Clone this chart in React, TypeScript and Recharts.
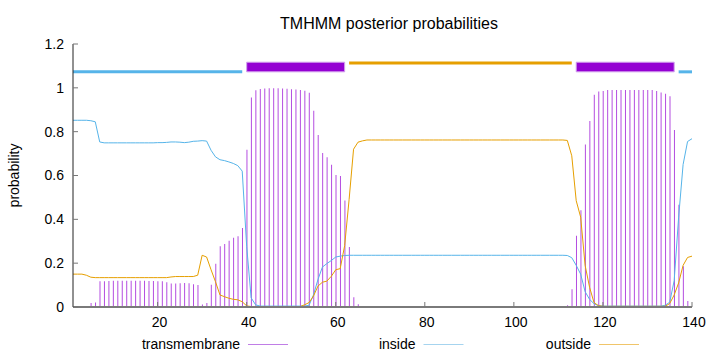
import React from "react";
import {
  ComposedChart,
  Bar,
  Line,
  XAxis,
  YAxis,
  ReferenceLine,
  ReferenceArea,
} from "recharts";

// posterior probability per residue (1..140)
const transmembrane = [
  0, 0, 0, 0.005, 0.018, 0.02, 0.117, 0.118, 0.119, 0.12,
  0.12, 0.12, 0.12, 0.12, 0.12, 0.12, 0.12, 0.119, 0.119, 0.118,
  0.117, 0.113, 0.107, 0.107, 0.108, 0.11, 0.108, 0.104, 0.1, 0.011,
  0.018, 0.102, 0.197, 0.277, 0.287, 0.302, 0.316, 0.323, 0.361, 0.718,
  0.956, 0.989, 0.995, 0.997, 0.998, 0.998, 0.998, 0.997, 0.996, 0.994,
  0.992, 0.99, 0.987, 0.977, 0.896, 0.785, 0.703, 0.683, 0.649, 0.602,
  0.598, 0.486, 0.274, 0.044, 0.012, 0.005, 0.003, 0.003, 0.003, 0.003,
  0.003, 0.003, 0.003, 0.003, 0.003, 0.003, 0.003, 0.003, 0.003, 0.003,
  0.003, 0.003, 0.003, 0.003, 0.003, 0.003, 0.003, 0.003, 0.003, 0.003,
  0.003, 0.003, 0.003, 0.003, 0.003, 0.003, 0.003, 0.003, 0.003, 0.003,
  0.004, 0.004, 0.004, 0.004, 0.004, 0.004, 0.004, 0.004, 0.004, 0.004,
  0.005, 0.008, 0.081, 0.325, 0.442, 0.742, 0.849, 0.968, 0.983, 0.986,
  0.99, 0.99, 0.99, 0.99, 0.99, 0.99, 0.99, 0.99, 0.99, 0.99,
  0.99, 0.985, 0.979, 0.973, 0.962, 0.808, 0.466, 0.186, 0.027, 0,
];

const inside = [
  0.852, 0.852, 0.852, 0.852, 0.85, 0.845, 0.753, 0.749, 0.749, 0.749,
  0.749, 0.749, 0.749, 0.749, 0.749, 0.749, 0.749, 0.749, 0.749, 0.75,
  0.75, 0.751, 0.753, 0.753, 0.752, 0.75, 0.752, 0.756, 0.757, 0.759,
  0.757, 0.715, 0.685, 0.672, 0.668, 0.662, 0.655, 0.645, 0.62, 0.277,
  0.042, 0.01, 0.004, 0.004, 0.004, 0.004, 0.004, 0.004, 0.004, 0.004,
  0.004, 0.004, 0.004, 0.008, 0.055, 0.125, 0.182, 0.198, 0.212, 0.228,
  0.232, 0.235, 0.236, 0.236, 0.236, 0.236, 0.236, 0.236, 0.236, 0.236,
  0.236, 0.236, 0.236, 0.236, 0.236, 0.236, 0.236, 0.236, 0.236, 0.236,
  0.236, 0.236, 0.236, 0.236, 0.236, 0.236, 0.236, 0.236, 0.236, 0.236,
  0.236, 0.236, 0.236, 0.236, 0.236, 0.236, 0.236, 0.236, 0.236, 0.236,
  0.236, 0.236, 0.236, 0.236, 0.236, 0.236, 0.236, 0.236, 0.236, 0.236,
  0.236, 0.235, 0.225, 0.19, 0.15, 0.07, 0.035, 0.015, 0.006, 0.004,
  0.004, 0.004, 0.004, 0.004, 0.004, 0.004, 0.004, 0.004, 0.004, 0.004,
  0.004, 0.004, 0.004, 0.008, 0.022, 0.12, 0.41, 0.65, 0.755, 0.768,
];

const outside = [
  0.15, 0.15, 0.15, 0.145, 0.136, 0.134, 0.134, 0.134, 0.134, 0.134,
  0.134, 0.134, 0.134, 0.134, 0.134, 0.134, 0.134, 0.134, 0.134, 0.134,
  0.134, 0.134, 0.137, 0.139, 0.139, 0.139, 0.139, 0.139, 0.145, 0.236,
  0.228, 0.17, 0.115, 0.055, 0.047, 0.04, 0.035, 0.033, 0.024, 0.005,
  0.002, 0.002, 0.002, 0.002, 0.002, 0.002, 0.002, 0.002, 0.002, 0.002,
  0.002, 0.002, 0.01, 0.02, 0.05, 0.095, 0.113, 0.118, 0.14, 0.17,
  0.175, 0.28, 0.49, 0.72, 0.752, 0.758, 0.762, 0.762, 0.762, 0.762,
  0.762, 0.762, 0.762, 0.762, 0.762, 0.762, 0.762, 0.762, 0.762, 0.762,
  0.762, 0.762, 0.762, 0.762, 0.762, 0.762, 0.762, 0.762, 0.762, 0.762,
  0.762, 0.762, 0.762, 0.762, 0.762, 0.762, 0.762, 0.762, 0.762, 0.762,
  0.762, 0.762, 0.762, 0.762, 0.762, 0.762, 0.762, 0.762, 0.762, 0.762,
  0.762, 0.76, 0.69, 0.485, 0.41, 0.19, 0.09, 0.02, 0.006, 0.003,
  0.003, 0.003, 0.003, 0.003, 0.003, 0.003, 0.003, 0.003, 0.003, 0.003,
  0.003, 0.003, 0.003, 0.003, 0.016, 0.055, 0.11, 0.19, 0.226, 0.232,
];

// predicted topology drawn above the curves
const topoKind = ["inside", "TM", "outside", "TM", "inside"];
const topoStart = [1, 40, 63, 114, 137];
const topoEnd = [39, 62, 113, 136, 140];

const xTicks = [20, 40, 60, 80, 100, 120, 140];
const yTicks = [0, 0.2, 0.4, 0.6, 0.8, 1, 1.2];

const TM_COLOR = "#9400d3";
const IN_COLOR = "#56b4e9";
const OUT_COLOR = "#e69f00";
const FONT = "'Liberation Sans', Arial, Helvetica, sans-serif";

const INSIDE_LEVEL = 1.073;
const OUTSIDE_LEVEL = 1.113;
const TM_TOP = 1.117;

const rows = transmembrane.map((tm, i) => ({
  pos: i + 1,
  tm,
  inside: inside[i],
  outside: outside[i],
}));

const legendItems = [
  { label: "transmembrane", color: "#c07ee6" },
  { label: "inside", color: "#a6d4ef" },
  { label: "outside", color: "#f0c56a" },
];

function Overlay() {
  return (
    <svg
      width={720}
      height={352}
      style={{ position: "absolute", left: 0, top: 0, pointerEvents: "none" }}
      fontFamily={FONT}
    >
      <text x={389} y={28.5} textAnchor="middle" fontSize={16} fill="#000">
        TMHMM posterior probabilities
      </text>
      {legendItems.map((item, i) => {
        const lineX = 248 + i * 175.5;
        return (
          <g key={item.label}>
            <text x={lineX - 8} y={349} textAnchor="end" fontSize={14} fill="#000">
              {item.label}
            </text>
            <line x1={lineX} x2={lineX + 40} y1={344.5} y2={344.5} stroke={item.color} strokeWidth={1} />
          </g>
        );
      })}
    </svg>
  );
}

export default function App() {
  return (
    <div style={{ position: "absolute", left: 0, top: 0, width: 720, height: 352, background: "#fff" }}>
      <ComposedChart
        width={720}
        height={352}
        data={rows}
        margin={{ top: 44, right: 28, bottom: 25, left: 0 }}
        style={{ fontFamily: FONT }}
      >
        <XAxis
          dataKey="pos"
          type="number"
          domain={[1, 140]}
          ticks={xTicks}
          allowDataOverflow
          height={20}
          tickSize={-5}
          tickMargin={15}
          axisLine={{ stroke: "#7a7a7a", strokeWidth: 2 }}
          tickLine={{ stroke: "#777" }}
          tick={{ fill: "#000", fontSize: 14, dx: 2 }}
        />
        <XAxis
          xAxisId="top"
          dataKey="pos"
          type="number"
          orientation="top"
          domain={[1, 140]}
          ticks={xTicks}
          allowDataOverflow
          height={0}
          tickSize={-5}
          axisLine={{ stroke: "#222" }}
          tickLine={{ stroke: "#777" }}
          tick={false}
        />
        <YAxis
          type="number"
          domain={[0, 1.2]}
          ticks={yTicks}
          width={73}
          tickSize={-5}
          tickMargin={14}
          axisLine={{ stroke: "#222" }}
          tickLine={{ stroke: "#777" }}
          tick={{ fill: "#000", fontSize: 14 }}
          label={{
            position: "center",
            content: ({ viewBox }: any) => {
              const cy = viewBox.y + viewBox.height / 2;
              return (
                <text
                  x={19}
                  y={cy}
                  transform={`rotate(-90, 19, ${cy})`}
                  textAnchor="middle"
                  fontSize={14}
                  fill="#000"
                >
                  probability
                </text>
              );
            },
          }}
        />
        <YAxis
          yAxisId="right"
          type="number"
          orientation="right"
          domain={[0, 1.2]}
          ticks={yTicks}
          width={0}
          tickSize={-5}
          axisLine={{ stroke: "#7a7a7a", strokeWidth: 2 }}
          tickLine={{ stroke: "#777" }}
          tick={false}
        />

        <Bar dataKey="tm" fill={TM_COLOR} fillOpacity={0.7} barSize={1} isAnimationActive={false} />
        <Line
          type="linear"
          dataKey="inside"
          stroke={IN_COLOR}
          strokeWidth={1}
          dot={false}
          isAnimationActive={false}
        />
        <Line
          type="linear"
          dataKey="outside"
          stroke={OUT_COLOR}
          strokeWidth={1}
          dot={false}
          isAnimationActive={false}
        />

        {topoKind.map((kind, i) =>
          kind === "TM" ? (
            <ReferenceArea
              key={i}
              x1={topoStart[i]}
              x2={topoEnd[i]}
              y1={INSIDE_LEVEL}
              y2={TM_TOP}
              fill={TM_COLOR}
              fillOpacity={1}
              stroke="#d2a0ee"
              strokeWidth={1}
            />
          ) : (
            <ReferenceLine
              key={i}
              segment={[
                { x: topoStart[i], y: kind === "inside" ? INSIDE_LEVEL : OUTSIDE_LEVEL },
                { x: topoEnd[i], y: kind === "inside" ? INSIDE_LEVEL : OUTSIDE_LEVEL },
              ]}
              stroke={kind === "inside" ? IN_COLOR : OUT_COLOR}
              strokeWidth={3}
            />
          )
        )}
      </ComposedChart>
      <Overlay />
    </div>
  );
}
